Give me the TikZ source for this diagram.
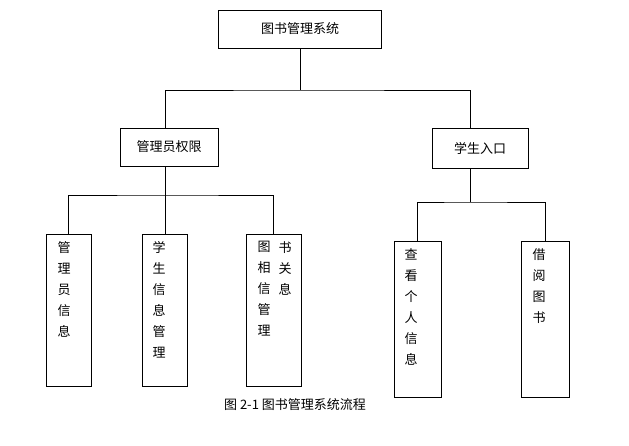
\documentclass[tikz,border=0pt]{standalone}
\usepackage{fontspec}
\setmainfont{Noto Sans CJK SC}
\begin{document}
\begin{tikzpicture}[x=1pt,y=-1pt,
  ln/.style={thick},
  lbl/.style={font=\fontsize{13}{15}\selectfont},
  vt/.style={font=\fontsize{13}{21}\selectfont,align=center,anchor=north,inner sep=0pt}]
\useasboundingbox (0,0) rectangle (629,445);
\node[draw,thick,minimum width=163pt,minimum height=38pt,lbl] (top) at (300,29) {图书管理系统};
\node[draw,thick,minimum width=98pt,minimum height=38pt,lbl] (adm) at (169,147) {管理员权限};
\node[draw,thick,minimum width=96pt,minimum height=40pt,lbl] (stu) at (480,148) {学生入口};
\node[draw,thick,minimum width=45pt,minimum height=152pt] (b1) at (68.5,310) {};
\node[draw,thick,minimum width=45pt,minimum height=152pt] (b2) at (165,310) {};
\node[draw,thick,minimum width=55pt,minimum height=152pt] (b3) at (273.5,310) {};
\node[draw,thick,minimum width=47pt,minimum height=156pt] (b4) at (417.5,319) {};
\node[draw,thick,minimum width=48pt,minimum height=156pt] (b5) at (545,319) {};
\node[vt] (t1) at (64,241) {管\\理\\员\\信\\息};
\node[vt] (t2) at (159,241) {学\\生\\信\\息\\管\\理};
\node[vt] (t3a) at (264,241) {图\\相\\信\\管\\理};
\node[vt] (t3b) at (285,241) {书\\关\\息};
\node[vt] (t4) at (411,248) {查\\看\\个\\人\\信\\息};
\node[vt] (t5) at (539,248) {借\\阅\\图\\书};
\node[lbl] (cap) at (295,405) {图 2-1 图书管理系统流程};
\coordinate (j1) at (300,90);
\coordinate (j2) at (165,195);
\coordinate (j3) at (470,202);
\draw[ln] (top.south) -- (j1);
\draw[ln] (adm.north -| j2) |- (j1) -| (stu.north -| j3);
\draw[ln] (adm.south -| j2) -- (j2);
\draw[ln] (b1.north) |- (j2) -| (b3.north);
\draw[ln] (j2) -- (b2.north);
\draw[ln] (stu.south -| j3) -- (j3);
\draw[ln] (b4.north) |- (j3) -| (b5.north);
\end{tikzpicture}
\end{document}
